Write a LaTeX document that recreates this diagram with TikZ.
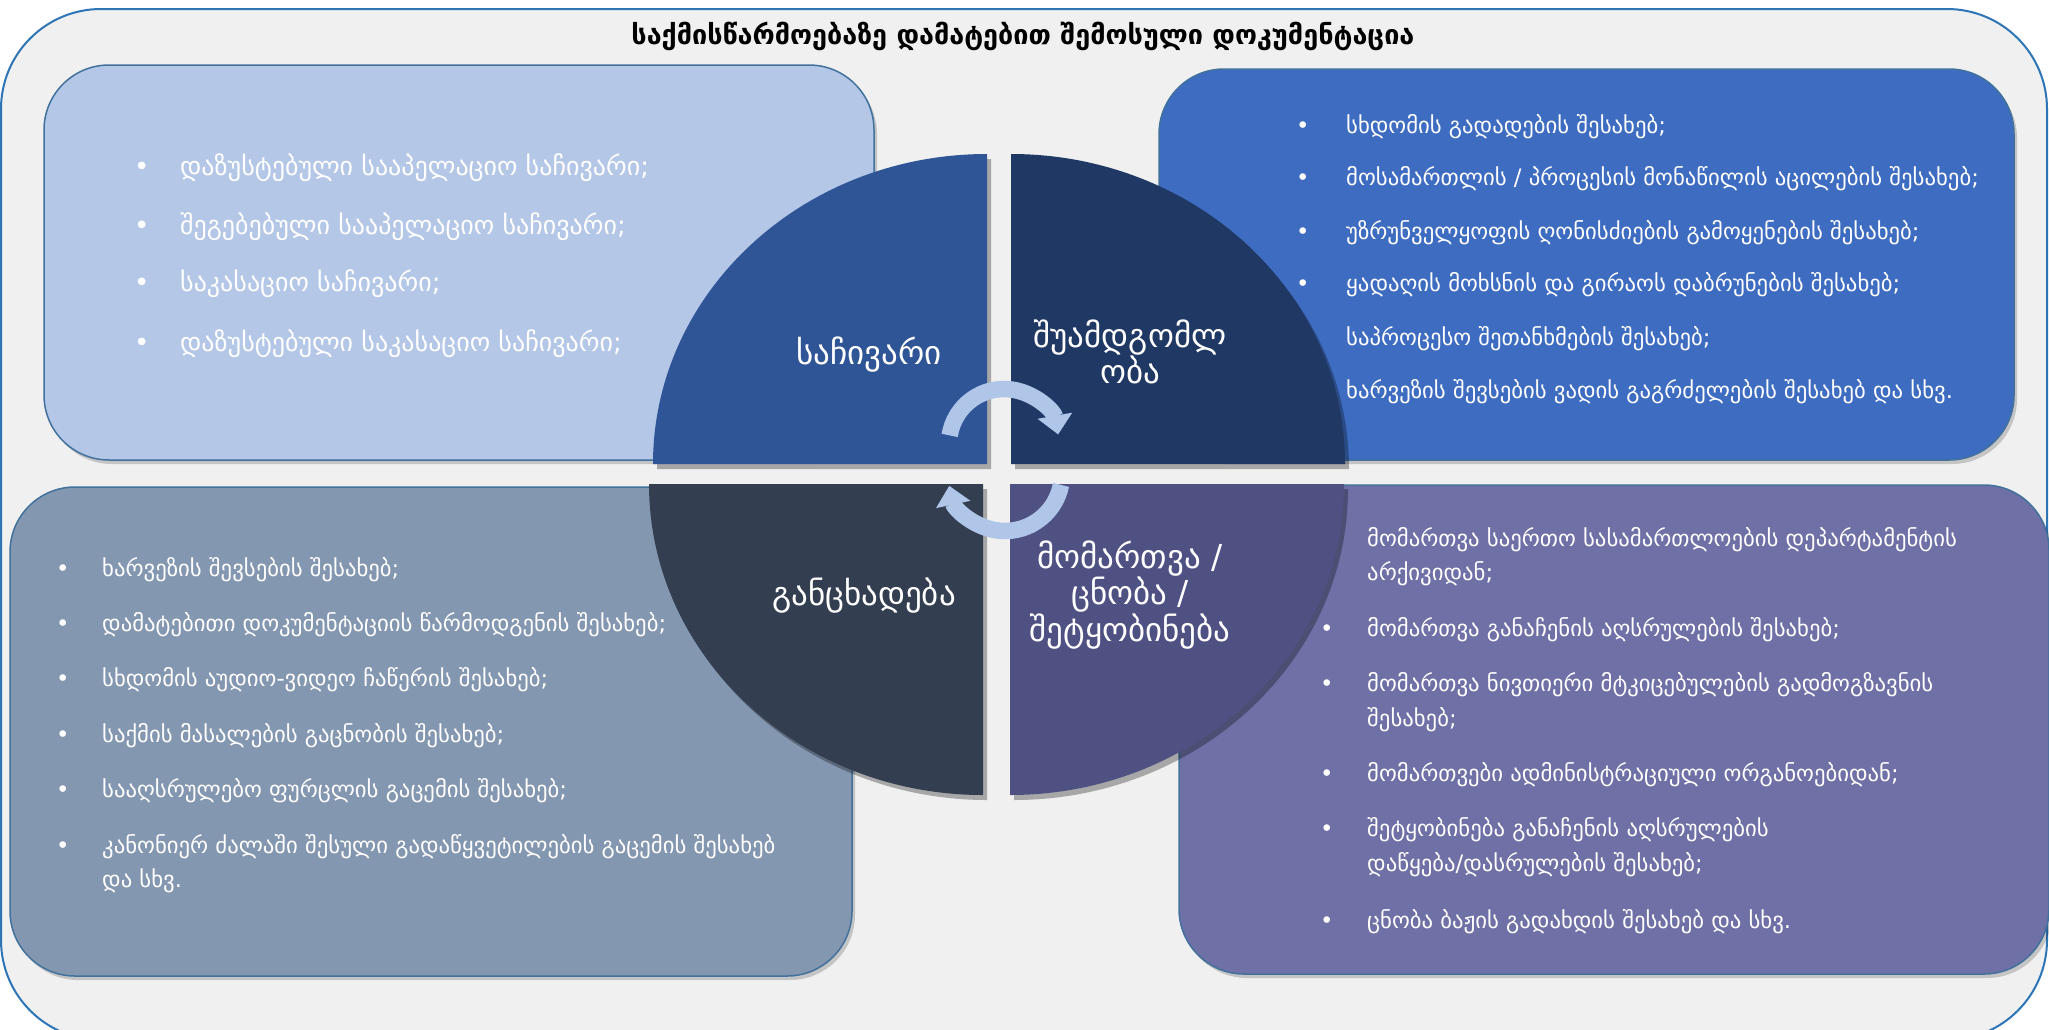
\documentclass[tikz,border=0pt]{standalone}
\usepackage{fontspec}
\setmainfont{DejaVu Sans}
\newfontfamily\geo{DejaVu Sans}
\usetikzlibrary{arrows.meta,shadows}
\definecolor{framec}{HTML}{2E75B6}
\definecolor{bgc}{HTML}{F0F0F0}
\definecolor{boxTL}{HTML}{B4C7E7}
\definecolor{boxTR}{HTML}{3D6CC0}
\definecolor{boxBL}{HTML}{8497B0}
\definecolor{boxBR}{HTML}{6E70A6}
\definecolor{pieTL}{HTML}{2F5597}
\definecolor{pieTR}{HTML}{203864}
\definecolor{pieBL}{HTML}{333F50}
\definecolor{pieBR}{HTML}{4F5183}
\definecolor{arrc}{HTML}{AFC6E9}
\definecolor{boxline}{HTML}{41719C}
\tikzset{
  listbox/.style={rectangle, rounded corners=65pt, draw=boxline, line width=1.5pt,
    drop shadow={shadow xshift=3pt, shadow yshift=-4pt, opacity=0.18, fill=black}},
  txt/.style={anchor=mid west, inner sep=0pt, yshift=-6.5pt, text=white, font=\geo\fontsize{22.7}{27}\selectfont},
  bul/.style={txt},
  txtbig/.style={txt, font=\geo\fontsize{26}{30}\selectfont},
  pie/.style={drop shadow={shadow xshift=4pt, shadow yshift=-5pt, opacity=0.3, fill=black}},
  pielabel/.style={text=white, align=center, inner sep=0pt, font=\geo\fontsize{33}{34}\selectfont},
  cyc/.style={draw=arrc, line width=16.5pt, -{Triangle[width=34pt, length=19pt]}}
}
\begin{document}
\begin{tikzpicture}[x=1pt,y=-1pt]
\useasboundingbox (0,0) rectangle (2049,1029);
\fill[white] (0,0) rectangle (2049,1029);
\draw[framec, line width=2pt, fill=bgc, rounded corners=100pt] (1,9) rectangle (2047,1040);

\node[font=\geo\bfseries\fontsize{27}{32}\selectfont] (title) at (1023,36) {საქმისწარმოებაზე დამატებით შემოსული დოკუმენტაცია};

% boxes
\node[listbox, fill=boxTL, minimum width=830pt, minimum height=395pt] (boxtl) at (459,262.5) {};
\node[listbox, fill=boxTR, minimum width=855pt, minimum height=391pt] (boxtr) at (1586.5,264.5) {};
\node[listbox, fill=boxBL, minimum width=842pt, minimum height=489pt] (boxbl) at (431,731.5) {};
\node[listbox, fill=boxBR, minimum width=870pt, minimum height=489pt] (boxbr) at (1614,729.5) {};

% top-left text
\node[txtbig] (tlb1) at (134,166) {•}; \node[txtbig] (tl1) at (180,166) {დაზუსტებული სააპელაციო საჩივარი;};
\node[txtbig] (tlb2) at (134,225) {•}; \node[txtbig] (tl2) at (180,225) {შეგებებული სააპელაციო საჩივარი;};
\node[txtbig] (tlb3) at (134,282) {•}; \node[txtbig] (tl3) at (180,282) {საკასაციო საჩივარი;};
\node[txtbig] (tlb4) at (134,342) {•}; \node[txtbig] (tl4) at (180,342) {დაზუსტებული საკასაციო საჩივარი;};

% top-right text
\node[bul] (trb1) at (1296,124) {•}; \node[txt] (tr1) at (1346,124) {სხდომის გადადების შესახებ;};
\node[bul] (trb2) at (1296,176) {•}; \node[txt] (tr2) at (1346,176) {მოსამართლის / პროცესის მონაწილის აცილების შესახებ;};
\node[bul] (trb3) at (1296,230) {•}; \node[txt] (tr3) at (1346,230) {უზრუნველყოფის ღონისძიების გამოყენების შესახებ;};
\node[bul] (trb4) at (1296,282) {•}; \node[txt] (tr4) at (1346,282) {ყადაღის მოხსნის და გირაოს დაბრუნების შესახებ;};
\node[txt] (tr5) at (1346,336) {საპროცესო შეთანხმების შესახებ;};
\node[txt] (tr6) at (1346,389) {ხარვეზის შევსების ვადის გაგრძელების შესახებ და სხვ.};

% bottom-left text
\node[bul] (blb1) at (56,567) {•}; \node[txt] (bl1) at (102,567) {ხარვეზის შევსების შესახებ;};
\node[bul] (blb2) at (56,622) {•}; \node[txt] (bl2) at (102,622) {დამატებითი დოკუმენტაციის წარმოდგენის შესახებ;};
\node[bul] (blb3) at (56,677) {•}; \node[txt] (bl3) at (102,677) {სხდომის აუდიო-ვიდეო ჩაწერის შესახებ;};
\node[bul] (blb4) at (56,733) {•}; \node[txt] (bl4) at (102,733) {საქმის მასალების გაცნობის შესახებ;};
\node[bul] (blb5) at (56,788) {•}; \node[txt] (bl5) at (102,788) {სააღსრულებო ფურცლის გაცემის შესახებ;};
\node[bul] (blb6) at (56,844) {•}; \node[txt] (bl6) at (102,844) {კანონიერ ძალაში შესული გადაწყვეტილების გაცემის შესახებ};
\node[txt] (bl7) at (102,878) {და სხვ.};

% bottom-right text
\node[txt] (br1) at (1367,537) {მომართვა საერთო სასამართლოების დეპარტამენტის};
\node[txt] (br1b) at (1367,571) {არქივიდან;};
\node[bul] (brb2) at (1320,627) {•}; \node[txt] (br2) at (1367,627) {მომართვა განაჩენის აღსრულების შესახებ;};
\node[bul] (brb3) at (1320,682) {•}; \node[txt] (br3) at (1367,682) {მომართვა ნივთიერი მტკიცებულების გადმოგზავნის};
\node[txt] (br3b) at (1367,717) {შესახებ;};
\node[bul] (brb4) at (1320,772) {•}; \node[txt] (br4) at (1367,772) {მომართვები ადმინისტრაციული ორგანოებიდან;};
\node[bul] (brb5) at (1320,827) {•}; \node[txt] (br5) at (1367,827) {შეტყობინება განაჩენის აღსრულების};
\node[txt] (br5b) at (1367,862) {დაწყება/დასრულების შესახებ;};
\node[bul] (brb6) at (1320,919) {•}; \node[txt] (br6) at (1367,919) {ცნობა ბაჟის გადახდის შესახებ და სხვ.};

% pie pieces
\fill[pieTL, pie] (987,464) -- (653,464) arc[start angle=180, end angle=270, x radius=334, y radius=310] -- cycle;
\fill[pieTR, pie] (1011,464) -- (1011,154) arc[start angle=270, end angle=360, x radius=334, y radius=310] -- cycle;
\fill[pieBL, pie] (983,484) -- (649,484) arc[start angle=180, end angle=90, x radius=334, y radius=311] -- cycle;
\fill[pieBR, pie] (1010,484) -- (1344,484) arc[start angle=0, end angle=90, x radius=334, y radius=311] -- cycle;

\node[pielabel] (p1) at (869,355) {საჩივარი};
\node[pielabel] (p2) at (1130,352) {შუამდგომლ\\ობა};
\node[pielabel] (p3) at (864,596) {განცხადება};
\node[pielabel] (p4) at (1130,595) {მომართვა /\\ცნობა /\\შეტყობინება};

% cycle arrows
\coordinate (c1) at (1004,444);
\coordinate (c2) at (1005,474);
\draw[cyc] (c1) ++(189:55) arc[start angle=189, end angle=350, radius=55];
\draw[cyc] (c2) ++(11:57) arc[start angle=11, end angle=168, radius=57];
\end{tikzpicture}
\end{document}
